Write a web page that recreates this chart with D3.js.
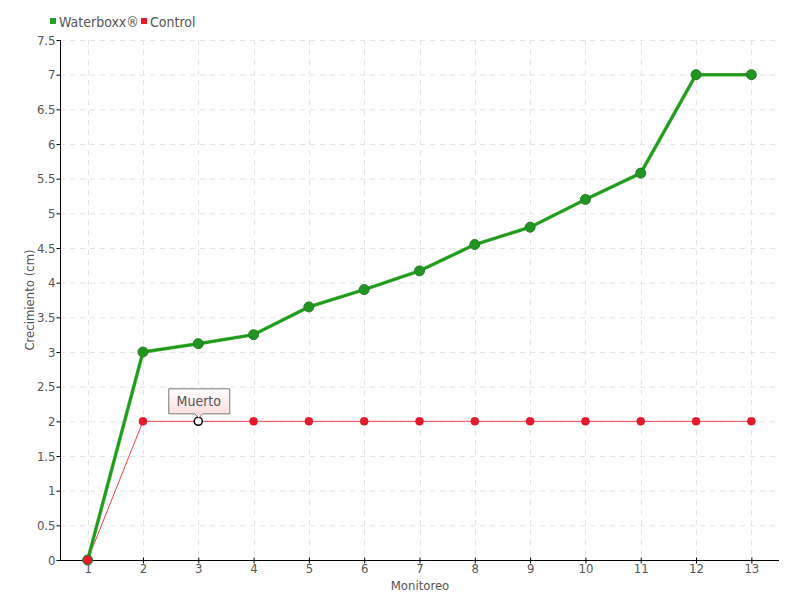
<!DOCTYPE html>
<html><head><meta charset="utf-8">
<script src="https://cdn.jsdelivr.net/npm/d3@7"></script>
<style>
body{margin:0;background:#fff;}
text{font-family:"DejaVu Sans Condensed","Liberation Sans Narrow",sans-serif;fill:#555;}
</style></head>
<body><svg id="c" width="800" height="600"></svg>
<script>
const monitoreo = [1,2,3,4,5,6,7,8,9,10,11,12,13];
const waterboxx = [0,3,3.12,3.25,3.65,3.9,4.17,4.55,4.8,5.2,5.58,7,7];
const control = [0,2,2,2,2,2,2,2,2,2,2,2,2];
const yTicks = d3.range(0, 7.51, 0.5);
const seriesNames = ["Waterboxx®","Control"];
const annotation = {index:2, label:"Muerto"};

const svg = d3.select("#c");
const x = d3.scaleLinear().domain([0.5,13.5]).range([60,779]);
const y = d3.scaleLinear().domain([0,7.5]).range([560,40]);

// grid
const g = svg.append("g");
g.selectAll(".hg").data(yTicks.filter(d=>d>0)).enter().append("line")
  .attr("x1",60).attr("x2",779).attr("y1",d=>y(d)+0.5).attr("y2",d=>y(d)+0.5)
  .attr("stroke","#e4e4e4").attr("stroke-dasharray","5,5");
g.selectAll(".vg").data(monitoreo).enter().append("line")
  .attr("x1",d=>Math.round(x(d))+0.5).attr("x2",d=>Math.round(x(d))+0.5).attr("y1",40).attr("y2",560)
  .attr("stroke","#e4e4e4").attr("stroke-dasharray","5,5");

// axes
const yAxis = d3.axisLeft(y).tickValues(yTicks).tickSize(4).tickFormat(d=>String(d));
const ya = svg.append("g").attr("transform","translate(60.5,0)").call(yAxis);
ya.select(".domain").attr("stroke","#000").attr("d","M0,40V560.5");
ya.selectAll(".tick line").attr("stroke","#000");
ya.selectAll(".tick text").attr("font-size",13).attr("x",-5).style("fill","#555");

const xAxis = d3.axisBottom(x).tickValues(monitoreo).tickSize(4).tickFormat(d=>String(d));
const xa = svg.append("g").attr("transform","translate(0,560.5)").call(xAxis);
xa.select(".domain").attr("stroke","#000").attr("d","M60,0H779");
xa.selectAll(".tick line").attr("stroke","#000").attr("y1",-3).attr("y2",3);
xa.selectAll(".tick text").attr("font-size",13).attr("y",3).style("fill","#555");
svg.selectAll(".tick text").attr("font-family",null);

svg.append("text").attr("x",420).attr("y",590).attr("text-anchor","middle").attr("font-size",13).text("Monitoreo");
svg.append("text").attr("transform","translate(34,300) rotate(-90)").attr("text-anchor","middle").attr("font-size",13).text("Crecimiento (cm)");

// lines
const line = d3.line().x((d,i)=>x(monitoreo[i])).y(d=>y(d));
svg.append("path").datum(control).attr("d",line).attr("fill","none").attr("stroke","#f0404e").attr("stroke-width",1);
svg.append("path").datum(waterboxx).attr("d",line).attr("fill","none").attr("stroke","#3fae30").attr("stroke-width",3.5);
svg.append("path").datum(waterboxx).attr("d",line).attr("fill","none").attr("stroke","#1d9a1d").attr("stroke-width",2);

svg.selectAll(".wp").data(waterboxx).enter().append("circle")
  .attr("cx",(d,i)=>x(monitoreo[i])).attr("cy",d=>y(d)).attr("r",5)
  .attr("fill","#1f961f").attr("stroke","#2a7a2a").attr("stroke-width",1);
svg.selectAll(".cp").data(control).enter().append("circle")
  .attr("cx",(d,i)=>x(monitoreo[i])).attr("cy",d=>y(d)).attr("r",d=>4)
  .attr("fill",(d,i)=>i===annotation.index?"#fff":"#e8192c")
  .attr("stroke",(d,i)=>i===annotation.index?"#000":"#d01020").attr("stroke-width",(d,i)=>i===annotation.index?1.5:0.5);

// annotation
const ax = x(monitoreo[annotation.index]), ay = y(control[annotation.index]);
const defs = svg.append("defs");
const gr = defs.append("linearGradient").attr("id","pk").attr("x1",0).attr("x2",0).attr("y1",0).attr("y2",1);
gr.append("stop").attr("offset","0").attr("stop-color","#fff");
gr.append("stop").attr("offset","1").attr("stop-color","#fcd8d8");
const bx0 = ax-30, bx1 = ax+31, by0 = ay-33, by1 = ay-8;
svg.append("path").attr("d",`M${bx0+0.5},${by0+0.5}H${bx1+0.5}V${by1+0.5}H${ax+4.5}L${ax+0.5},${by1+4.5}L${ax-3.5},${by1+0.5}H${bx0+0.5}Z`)
  .attr("fill","url(#pk)").attr("stroke","#777").attr("stroke-width",1);
svg.append("text").attr("x",ax+0.5).attr("y",by0+18).attr("text-anchor","middle").attr("font-size",14).text(annotation.label);

// legend
const lg = svg.append("g");
const colors = ["#22a022","#e8192c"];
const lx = [50,141];
seriesNames.forEach((n,i)=>{
  lg.append("rect").attr("x",lx[i]).attr("y",18).attr("width",6).attr("height",6).attr("fill",colors[i]);
  lg.append("text").attr("x",lx[i]+9).attr("y",27).attr("font-size",14).text(n);
});
</script></body></html>
